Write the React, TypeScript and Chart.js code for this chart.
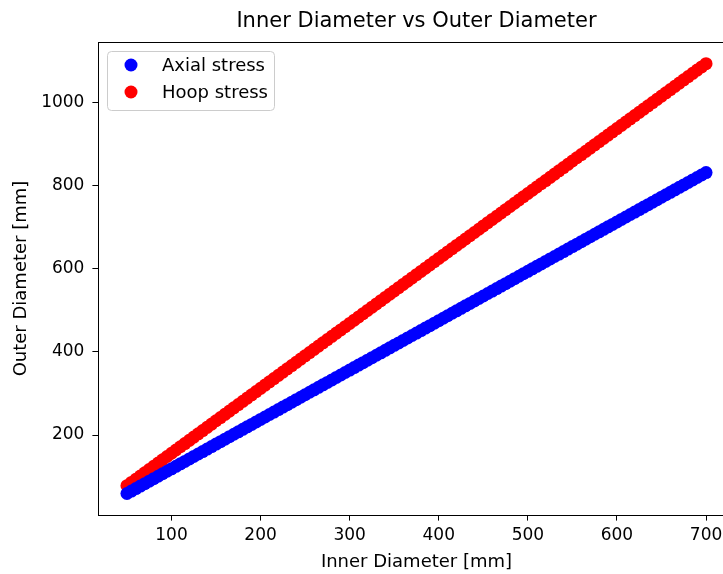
import React, { useEffect, useRef } from "react";
import { Chart, registerables } from "chart.js";

Chart.register(...registerables);

const titleText = "Inner Diameter vs Outer Diameter";
const xLabel = "Inner Diameter [mm]";
const yLabel = "Outer Diameter [mm]";
const seriesNames = ["Axial stress", "Hoop stress"];
const seriesColors = ["#0000ff", "#ff0000"];

const xTicks = [100, 200, 300, 400, 500, 600, 700];
const yTicks = [200, 400, 600, 800, 1000];

const innerDiameter = [
  50, 55, 60, 65, 70, 75, 80, 85, 90, 95,
  100, 105, 110, 115, 120, 125, 130, 135, 140, 145,
  150, 155, 160, 165, 170, 175, 180, 185, 190, 195,
  200, 205, 210, 215, 220, 225, 230, 235, 240, 245,
  250, 255, 260, 265, 270, 275, 280, 285, 290, 295,
  300, 305, 310, 315, 320, 325, 330, 335, 340, 345,
  350, 355, 360, 365, 370, 375, 380, 385, 390, 395,
  400, 405, 410, 415, 420, 425, 430, 435, 440, 445,
  450, 455, 460, 465, 470, 475, 480, 485, 490, 495,
  500, 505, 510, 515, 520, 525, 530, 535, 540, 545,
  550, 555, 560, 565, 570, 575, 580, 585, 590, 595,
  600, 605, 610, 615, 620, 625, 630, 635, 640, 645,
  650, 655, 660, 665, 670, 675, 680, 685, 690, 695,
  700,
];

const axialOuter = [
  59.4, 65.3, 71.2, 77.2, 83.1, 89.0, 95.0, 100.9, 106.8, 112.8,
  118.7, 124.6, 130.6, 136.5, 142.4, 148.4, 154.3, 160.2, 166.2, 172.1,
  178.1, 184.0, 189.9, 195.9, 201.8, 207.7, 213.7, 219.6, 225.5, 231.5,
  237.4, 243.3, 249.3, 255.2, 261.1, 267.1, 273.0, 278.9, 284.9, 290.8,
  296.8, 302.7, 308.6, 314.6, 320.5, 326.4, 332.4, 338.3, 344.2, 350.2,
  356.1, 362.0, 368.0, 373.9, 379.8, 385.8, 391.7, 397.6, 403.6, 409.5,
  415.5, 421.4, 427.3, 433.3, 439.2, 445.1, 451.1, 457.0, 462.9, 468.9,
  474.8, 480.7, 486.7, 492.6, 498.5, 504.5, 510.4, 516.3, 522.3, 528.2,
  534.2, 540.1, 546.0, 552.0, 557.9, 563.8, 569.8, 575.7, 581.6, 587.6,
  593.5, 599.4, 605.4, 611.3, 617.2, 623.2, 629.1, 635.0, 641.0, 646.9,
  652.9, 658.8, 664.7, 670.7, 676.6, 682.5, 688.5, 694.4, 700.3, 706.3,
  712.2, 718.1, 724.1, 730.0, 735.9, 741.9, 747.8, 753.7, 759.7, 765.6,
  771.6, 777.5, 783.4, 789.4, 795.3, 801.2, 807.2, 813.1, 819.0, 825.0,
  830.9,
];

const hoopOuter = [
  78.1, 85.9, 93.7, 101.5, 109.3, 117.1, 124.9, 132.7, 140.5, 148.3,
  156.1, 163.9, 171.7, 179.5, 187.3, 195.1, 202.9, 210.7, 218.5, 226.3,
  234.2, 242.0, 249.8, 257.6, 265.4, 273.2, 281.0, 288.8, 296.6, 304.4,
  312.2, 320.0, 327.8, 335.6, 343.4, 351.2, 359.0, 366.8, 374.6, 382.4,
  390.3, 398.1, 405.9, 413.7, 421.5, 429.3, 437.1, 444.9, 452.7, 460.5,
  468.3, 476.1, 483.9, 491.7, 499.5, 507.3, 515.1, 522.9, 530.7, 538.5,
  546.4, 554.2, 562.0, 569.8, 577.6, 585.4, 593.2, 601.0, 608.8, 616.6,
  624.4, 632.2, 640.0, 647.8, 655.6, 663.4, 671.2, 679.0, 686.8, 694.6,
  702.5, 710.3, 718.1, 725.9, 733.7, 741.5, 749.3, 757.1, 764.9, 772.7,
  780.5, 788.3, 796.1, 803.9, 811.7, 819.5, 827.3, 835.1, 842.9, 850.7,
  858.6, 866.4, 874.2, 882.0, 889.8, 897.6, 905.4, 913.2, 921.0, 928.8,
  936.6, 944.4, 952.2, 960.0, 967.8, 975.6, 983.4, 991.2, 999.0, 1006.8,
  1014.7, 1022.5, 1030.3, 1038.1, 1045.9, 1053.7, 1061.5, 1069.3, 1077.1, 1084.9,
  1092.7,
];

const FONT = "'DejaVu Sans', sans-serif";

const framePlugin = {
  id: "frameTitleLegend",
  afterDraw(chart: any) {
    const { ctx, chartArea } = chart;
    const { left, right, top, bottom } = chartArea;
    ctx.save();
    // spines
    ctx.strokeStyle = "#000";
    ctx.lineWidth = 1;
    ctx.strokeRect(left + 0.5, top + 0.5, right - left, bottom - top);
    // title
    ctx.fillStyle = "#000";
    ctx.font = `21px ${FONT}`;
    ctx.textAlign = "center";
    ctx.textBaseline = "middle";
    ctx.fillText(titleText, (left + right) / 2, top - 20);
    // legend
    const lx = left + 9;
    const ly = top + 9;
    const lw = 167;
    const lh = 59;
    ctx.beginPath();
    (ctx as any).roundRect(lx + 0.5, ly + 0.5, lw, lh, 4);
    ctx.fillStyle = "rgba(255,255,255,0.8)";
    ctx.fill();
    ctx.strokeStyle = "#cccccc";
    ctx.lineWidth = 1;
    ctx.stroke();
    ctx.font = `18px ${FONT}`;
    ctx.textAlign = "left";
    ctx.textBaseline = "middle";
    chart.data.datasets.forEach((ds: any, i: number) => {
      const cy = ly + 14 + i * 27;
      ctx.beginPath();
      ctx.arc(lx + 24, cy, 6.5, 0, Math.PI * 2);
      ctx.fillStyle = ds.backgroundColor;
      ctx.fill();
      ctx.fillStyle = "#000";
      ctx.fillText(ds.label, lx + 55, cy + 1);
    });
    ctx.restore();
  },
};

export default function App() {
  const ref = useRef<HTMLCanvasElement | null>(null);

  useEffect(() => {
    const canvas = ref.current;
    if (!canvas) return;
    const chart = new Chart(canvas, {
      type: "scatter",
      data: {
        datasets: [
          {
            label: seriesNames[0],
            data: innerDiameter.map((x, i) => ({ x, y: axialOuter[i] })),
            backgroundColor: seriesColors[0],
            borderWidth: 0,
            pointRadius: 6.5,
          },
          {
            label: seriesNames[1],
            data: innerDiameter.map((x, i) => ({ x, y: hoopOuter[i] })),
            backgroundColor: seriesColors[1],
            borderWidth: 0,
            pointRadius: 6.5,
          },
        ],
      },
      options: {
        responsive: false,
        animation: false,
        layout: { padding: { top: 42, right: 25, left: 0, bottom: 0 } },
        plugins: {
          legend: { display: false },
          title: { display: false },
          tooltip: { enabled: false },
        },
        scales: {
          x: {
            type: "linear",
            min: 17.5,
            max: 732.5,
            afterBuildTicks: (scale: any) => {
              scale.ticks = xTicks.map((v) => ({ value: v }));
            },
            afterFit: (scale: any) => {
              scale.height = 59;
            },
            grid: {
              drawOnChartArea: false,
              drawTicks: true,
              tickLength: 5.6,
              tickColor: "#000",
            },
            border: { display: true, color: "#000", width: 1 },
            ticks: {
              color: "#000",
              font: { family: FONT, size: 17 },
              padding: 5,
              maxRotation: 0,
              callback: (v: any) => String(v),
            },
            title: {
              display: true,
              text: xLabel,
              color: "#000",
              font: { family: FONT, size: 18 },
              padding: { top: 0, bottom: 1 },
            },
          },
          y: {
            type: "linear",
            min: 7.7,
            max: 1144.7,
            afterBuildTicks: (scale: any) => {
              scale.ticks = yTicks.map((v) => ({ value: v }));
            },
            afterFit: (scale: any) => {
              scale.width = 98;
            },
            grid: {
              drawOnChartArea: false,
              drawTicks: true,
              tickLength: 5.6,
              tickColor: "#000",
            },
            border: { display: true, color: "#000", width: 1 },
            ticks: {
              color: "#000",
              font: { family: FONT, size: 17 },
              padding: 8,
              callback: (v: any) => String(v),
            },
            title: {
              display: true,
              text: yLabel,
              color: "#000",
              font: { family: FONT, size: 18 },
              padding: { top: 11, bottom: 0 },
            },
          },
        },
      },
      plugins: [framePlugin],
    });
    return () => chart.destroy();
  }, []);

  return (
    <div
      style={{
        position: "fixed",
        left: 0,
        top: 0,
        width: 723,
        height: 574,
        overflow: "hidden",
        background: "#fff",
      }}
    >
      <canvas ref={ref} width={760} height={574} style={{ display: "block" }} />
    </div>
  );
}
